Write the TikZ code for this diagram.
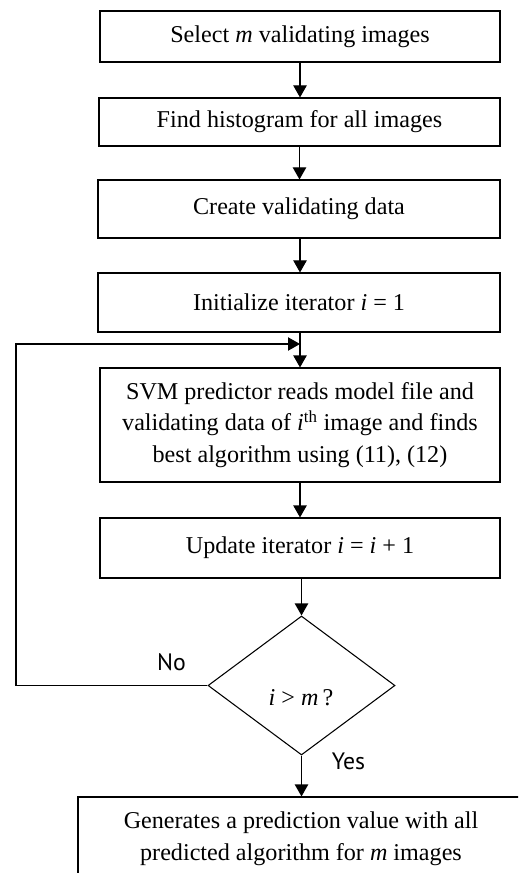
\documentclass[tikz,border=0pt]{standalone}
\usepackage{fontspec}
\setmainfont{Liberation Serif}
\newfontfamily\labelfont{PT Sans}
\usetikzlibrary{arrows.meta,shapes.geometric}
\begin{document}
\begin{tikzpicture}[x=0.75pt,y=-0.75pt,
  box/.style={draw,line width=0.8pt,rectangle,inner sep=0pt,align=center,
    font=\fontsize{18.1}{23.6}\selectfont},
  dec/.style={draw,line width=0.8pt,diamond,inner sep=0pt},
  txt/.style={inner sep=0pt,font=\fontsize{18.1}{23.6}\selectfont},
  arr/.style={line width=0.8pt,-{Triangle[length=9pt,width=10pt]}},
  lbl/.style={inner sep=0pt,font=\labelfont\fontsize{17.8}{20}\selectfont}]
\useasboundingbox (0,0) rectangle (518,873);
\clip (0,0) rectangle (518,873);
\node[box,minimum width=300pt,minimum height=38.25pt] (b1) at (300,36.5) {Select \textit{m} validating images};
\node[box,minimum width=300.75pt,minimum height=36pt] (b2) at (299.5,122) {Find histogram for all images};
\node[box,minimum width=301.5pt,minimum height=43.5pt] (b3) at (299,209) {Create validating data};
\node[box,minimum width=301.5pt,minimum height=44.25pt] (b4) at (299,302.5) {Initialize iterator \textit{i} = 1};
\node[box,minimum width=300pt,minimum height=85.5pt] (svm) at (300,425) {SVM predictor reads model file and\\validating data of \textit{i}\textsuperscript{th} image and finds\\best algorithm using (11), (12)};
\node[box,minimum width=300pt,minimum height=45pt] (upd) at (300,548) {Update iterator \textit{i} = \textit{i} + 1};
\node[dec,minimum width=140.25pt,minimum height=104.25pt] (d) at (301.5,685.5) {};
\node[txt] (q) at (301,698) {\textit{i} > \textit{m}\,?};
\node[box,minimum width=334.5pt,minimum height=62.25pt] (fin) at (301,838.5) {Generates a prediction value with all\\predicted algorithm for \textit{m} images};
\node[lbl] (no) at (171.5,662) {No};
\node[lbl] (yes) at (348.5,761) {Yes};
\coordinate (join) at (300,344);
\coordinate (L) at (16,344);
\draw[arr] (b1.south) -- (b1.south |- b2.north);
\draw[arr] (b2.south) -- (b2.south |- b3.north);
\draw[arr] (b3.south -| join) -- (join |- b4.north);
\draw[line width=0.8pt] (b4.south -| join) -- (join);
\draw[arr] (join) -- (join |- svm.north);
\draw[arr] (svm.south -| join) -- (join |- upd.north);
\draw[arr] (upd.south -| d.north) -- (d.north);
\draw[arr] (d.west) -- (d.west -| L) -- (L) -- (join);
\draw[arr] (d.south) -- (d.south |- fin.north);
\end{tikzpicture}
\end{document}
